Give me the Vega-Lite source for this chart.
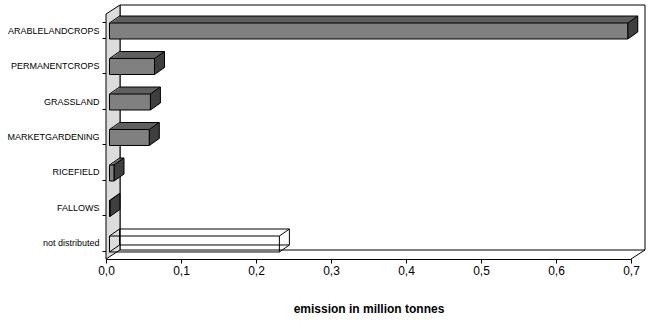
{
  "$schema": "https://vega.github.io/schema/vega-lite/v6.json",
  "width": 525,
  "height": 245,
  "autosize": {"type": "none"},
  "padding": {"left": 106, "top": 14, "right": 39, "bottom": 65},
  "background": "white",
  "config": {
    "view": {"stroke": null},
    "font": "Liberation Sans",
    "axis": {"domainColor": "black", "tickColor": "black", "labelColor": "black", "titleColor": "black", "grid": false, "zindex": 1, "labelFont": "Liberation Sans", "titleFont": "Liberation Sans"},
    "axisX": {"tickSize": 4, "labelFontSize": 12, "labelPadding": 2, "labelFlush": false, "titleFontSize": 12, "titleFontWeight": "bold", "titlePadding": 27},
    "axisY": {"tickSize": 4, "labelFontSize": 9, "labelPadding": 3, "tickBand": "extent"}
  },
  "datasets": {
    "emissions": [
      {"category": "ARABLELANDCROPS", "value": 0.691},
      {"category": "PERMANENTCROPS", "value": 0.060},
      {"category": "GRASSLAND", "value": 0.0545},
      {"category": "MARKETGARDENING", "value": 0.053},
      {"category": "RICEFIELD", "value": 0.006},
      {"category": "FALLOWS", "value": 0.0005},
      {"category": "not distributed", "value": 0.2265}
    ],
    "frame": [{"f": 1}]
  },
  "data": {"name": "emissions"},
  "layer": [
    {
      "data": {"name": "frame"},
      "mark": {"type": "rect", "fill": "white", "stroke": "black", "strokeWidth": 1, "xOffset": 14, "x2Offset": 14, "yOffset": -9, "y2Offset": -9},
      "encoding": {"x": {"datum": 0, "type": "quantitative", "title": "emission in million tonnes"}, "x2": {"datum": 0.7}, "y": {"value": 0}, "y2": {"value": "height"}}
    },
    {
      "data": {"name": "frame"},
      "mark": {"type": "point", "shape": "M0,0L14,-9L14,236L0,245Z", "size": 4, "filled": true, "fill": "#dcdcdc", "stroke": "black", "strokeWidth": 1, "opacity": 1},
      "encoding": {"x": {"datum": 0, "type": "quantitative", "title": "emission in million tonnes"}, "y": {"value": 0}}
    },
    {
      "data": {"name": "frame"},
      "mark": {"type": "point", "shape": "M0,0L14,-9", "size": 4, "filled": false, "stroke": "black", "strokeWidth": 1, "opacity": 1},
      "encoding": {"x": {"datum": 0.7, "type": "quantitative", "title": "emission in million tonnes"}, "y": {"value": "height"}}
    },
    {
      "transform": [{"filter": "datum.category !== 'not distributed'"}],
      "layer": [
        {"mark": {"type": "bar", "fill": "#5f5f5f", "strokeWidth": 0, "xOffset": 5.5, "x2Offset": 5.5, "yOffset": -0.4, "y2Offset": -0.4}},
        {"mark": {"type": "bar", "fill": "#5f5f5f", "strokeWidth": 0, "xOffset": 7.5, "x2Offset": 7.5, "yOffset": -1.8, "y2Offset": -1.8}},
        {"mark": {"type": "bar", "fill": "#5f5f5f", "strokeWidth": 0, "xOffset": 9.5, "x2Offset": 9.5, "yOffset": -3.2, "y2Offset": -3.2}},
        {"mark": {"type": "bar", "fill": "#5f5f5f", "strokeWidth": 0, "xOffset": 11.5, "x2Offset": 11.5, "yOffset": -4.6, "y2Offset": -4.6}},
        {"mark": {"type": "bar", "fill": "#5f5f5f", "strokeWidth": 0, "xOffset": 13.5, "x2Offset": 13.5, "yOffset": -6, "y2Offset": -6}},
        {
          "mark": {"type": "rule", "stroke": "black", "strokeWidth": 1, "xOffset": 13.5, "x2Offset": 13.5, "yOffset": -6},
          "encoding": {
            "x": {"field": "value", "type": "quantitative", "title": "emission in million tonnes"},
            "x2": {"datum": 0},
            "y": {"field": "category", "type": "nominal", "bandPosition": 0, "title": null, "scale": {"domain": ["ARABLELANDCROPS", "PERMANENTCROPS", "GRASSLAND", "MARKETGARDENING", "RICEFIELD", "FALLOWS", "not distributed"], "paddingInner": 0.55, "paddingOuter": 0.226}}
          }
        },
        {
          "mark": {"type": "point", "shape": "M0,0L10,-7", "size": 4, "filled": false, "stroke": "black", "strokeWidth": 1, "opacity": 1, "xOffset": 3.5, "yOffset": 1},
          "encoding": {
            "x": {"datum": 0, "type": "quantitative", "title": "emission in million tonnes"},
            "y": {"field": "category", "type": "nominal", "bandPosition": 0, "title": null, "scale": {"domain": ["ARABLELANDCROPS", "PERMANENTCROPS", "GRASSLAND", "MARKETGARDENING", "RICEFIELD", "FALLOWS", "not distributed"], "paddingInner": 0.55, "paddingOuter": 0.226}}
          }
        },
        {
          "mark": {"type": "point", "shape": "M0,0L10,-7L10,9L0,16Z", "size": 4, "filled": true, "fill": "#3f3f3f", "stroke": "black", "strokeWidth": 1, "opacity": 1, "xOffset": 3.5, "yOffset": 1},
          "encoding": {
            "x": {"field": "value", "type": "quantitative", "title": "emission in million tonnes"},
            "y": {"field": "category", "type": "nominal", "bandPosition": 0, "title": null, "scale": {"domain": ["ARABLELANDCROPS", "PERMANENTCROPS", "GRASSLAND", "MARKETGARDENING", "RICEFIELD", "FALLOWS", "not distributed"], "paddingInner": 0.55, "paddingOuter": 0.226}}
          }
        },
        {"mark": {"type": "bar", "fill": "#808080", "stroke": "black", "strokeWidth": 1, "xOffset": 3.5, "x2Offset": 3.5, "yOffset": 1, "y2Offset": 1}}
      ],
      "encoding": {
        "x": {"field": "value", "type": "quantitative", "title": "emission in million tonnes", "scale": {"domain": [0, 0.7]}, "axis": {"values": [0, 0.1, 0.2, 0.3, 0.4, 0.5, 0.6, 0.7], "labelExpr": "replace(format(datum.value, '.1f'), '.', ',')"}},
        "x2": {"datum": 0},
        "y": {"field": "category", "type": "nominal", "title": null, "scale": {"domain": ["ARABLELANDCROPS", "PERMANENTCROPS", "GRASSLAND", "MARKETGARDENING", "RICEFIELD", "FALLOWS", "not distributed"], "paddingInner": 0.55, "paddingOuter": 0.226}}
      }
    },
    {
      "transform": [{"filter": "datum.category === 'not distributed'"}],
      "layer": [
        {"mark": {"type": "bar", "fill": "white", "fillOpacity": 0, "stroke": "black", "strokeWidth": 1, "xOffset": 13.5, "x2Offset": 13.5, "yOffset": -6, "y2Offset": -6}},
        {"mark": {"type": "bar", "fill": "white", "fillOpacity": 0, "stroke": "black", "strokeWidth": 1, "xOffset": 3.5, "x2Offset": 3.5, "yOffset": 1, "y2Offset": 1}},
        {
          "mark": {"type": "point", "shape": "M0,0L10,-7M0,16L10,9", "size": 4, "filled": false, "stroke": "black", "strokeWidth": 1, "opacity": 1, "xOffset": 3.5, "yOffset": 1},
          "encoding": {
            "x": {"datum": 0, "type": "quantitative", "title": "emission in million tonnes"},
            "y": {"field": "category", "type": "nominal", "bandPosition": 0, "title": null, "scale": {"domain": ["ARABLELANDCROPS", "PERMANENTCROPS", "GRASSLAND", "MARKETGARDENING", "RICEFIELD", "FALLOWS", "not distributed"], "paddingInner": 0.55, "paddingOuter": 0.226}}
          }
        },
        {
          "mark": {"type": "point", "shape": "M0,0L10,-7M0,16L10,9", "size": 4, "filled": false, "stroke": "black", "strokeWidth": 1, "opacity": 1, "xOffset": 3.5, "yOffset": 1},
          "encoding": {
            "x": {"field": "value", "type": "quantitative", "title": "emission in million tonnes"},
            "y": {"field": "category", "type": "nominal", "bandPosition": 0, "title": null, "scale": {"domain": ["ARABLELANDCROPS", "PERMANENTCROPS", "GRASSLAND", "MARKETGARDENING", "RICEFIELD", "FALLOWS", "not distributed"], "paddingInner": 0.55, "paddingOuter": 0.226}}
          }
        }
      ],
      "encoding": {
        "x": {"field": "value", "type": "quantitative", "title": "emission in million tonnes"},
        "x2": {"datum": 0},
        "y": {"field": "category", "type": "nominal", "title": null, "scale": {"domain": ["ARABLELANDCROPS", "PERMANENTCROPS", "GRASSLAND", "MARKETGARDENING", "RICEFIELD", "FALLOWS", "not distributed"], "paddingInner": 0.55, "paddingOuter": 0.226}}
      }
    }
  ]
}
